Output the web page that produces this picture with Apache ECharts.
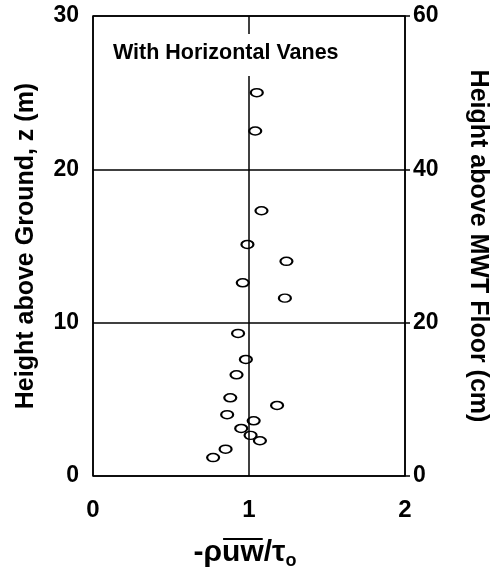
<!DOCTYPE html>
<html>
<head>
<meta charset="utf-8">
<script src="https://cdn.jsdelivr.net/npm/echarts@6/dist/echarts.min.js"></script>
<style>
  html, body { margin: 0; padding: 0; background: #fff; }
  #chart { width: 493px; height: 572px; }
</style>
</head>
<body>
<div id="chart"></div>
<script>
// Normalised Reynolds shear stress profile, -rho*uw/tau0, vs. height
const stressRatio = [1.05, 1.04, 1.08, 0.99, 1.24, 0.96, 1.23, 0.93, 0.98, 0.92,
                     0.88, 1.18, 0.86, 1.03, 0.95, 1.01, 1.07, 0.85, 0.77];
const heightM     = [25.0, 22.5, 17.3, 15.1, 14.0, 12.6, 11.6, 9.3, 7.6, 6.6,
                     5.1, 4.6, 4.0, 3.6, 3.1, 2.65, 2.3, 1.75, 1.2];

const xTicks = [0, 1, 2];
const zTicksM = [0, 10, 20, 30];
const zTicksCm = [0, 20, 40, 60];

const FONT = '"Liberation Sans", Arial, Helvetica, sans-serif';
const GRID = { left: 93, top: 16, width: 312, height: 460 };

const points = stressRatio.map((v, i) => [v, heightM[i]]);

// x-axis title: -ρ(uw overbar)/τ with subscript o, laid out from measured text widths
function measure(text, size) {
  const ctx = document.createElement('canvas').getContext('2d');
  ctx.font = 'bold ' + size + 'px ' + FONT;
  return ctx.measureText(text).width;
}
const titleSize = 30, subSize = 18;
const parts = ['-\u03c1', 'uw', '/\u03c4'];
const widths = parts.map(p => measure(p, titleSize));
const subW = measure('o', subSize);
const totalW = widths.reduce((a, b) => a + b, 0) + subW;
const titleCx = GRID.left + GRID.width / 2 - 4;
const titleMid = 553;
let cursor = titleCx - totalW / 2;
const titleEls = [];
parts.forEach((p, i) => {
  titleEls.push({
    type: 'text', x: cursor, y: titleMid,
    style: { text: p, font: 'bold ' + titleSize + 'px ' + FONT, fill: '#000',
             align: 'left', verticalAlign: 'middle' }
  });
  if (p === 'uw') {
    titleEls.push({
      type: 'line',
      shape: { x1: cursor + 1, y1: titleMid - 14, x2: cursor + widths[i] - 1, y2: titleMid - 14 },
      style: { stroke: '#000', lineWidth: 2 }
    });
  }
  cursor += widths[i];
});
titleEls.push({
  type: 'text', x: cursor, y: titleMid + 8,
  style: { text: 'o', font: 'bold ' + subSize + 'px ' + FONT, fill: '#000',
           align: 'left', verticalAlign: 'middle' }
});

const chart = echarts.init(document.getElementById('chart'), null, { renderer: 'canvas' });
chart.setOption({
  animation: false,
  backgroundColor: '#fff',
  title: {
    text: 'With Horizontal Vanes',
    left: 110, top: 34,
    padding: [8, 3, 12, 3],
    backgroundColor: '#fff',
    textStyle: { fontFamily: FONT, fontWeight: 'bold', fontSize: 21.5, color: '#000', lineHeight: 22 }
  },
  grid: Object.assign({
    show: true, borderColor: '#000', borderWidth: 1.5, backgroundColor: 'transparent',
    outerBoundsMode: 'none', containLabel: false
  }, GRID),
  xAxis: {
    type: 'value', min: xTicks[0], max: xTicks[xTicks.length - 1], interval: 1,
    axisLine: { show: false },
    axisTick: { show: false },
    axisLabel: { margin: 22, fontFamily: FONT, fontWeight: 'bold', fontSize: 24, color: '#000' },
    splitLine: { show: true, lineStyle: { color: '#000', width: 1.5 } }
  },
  yAxis: [
    {
      type: 'value', min: zTicksM[0], max: zTicksM[zTicksM.length - 1], interval: 10,
      position: 'left',
      name: 'Height above Ground, z (m)',
      nameLocation: 'middle', nameRotate: 90, nameGap: 54,
      nameTextStyle: { fontFamily: FONT, fontWeight: 'bold', fontSize: 25, color: '#000' },
      axisLine: { show: false },
      axisTick: { show: false },
      axisLabel: { margin: 14, fontFamily: FONT, fontWeight: 'bold', fontSize: 23, color: '#000' },
      splitLine: { show: true, lineStyle: { color: '#000', width: 1.5 } }
    },
    {
      type: 'value', min: zTicksCm[0], max: zTicksCm[zTicksCm.length - 1], interval: 20,
      position: 'right',
      name: 'Height above MWT Floor (cm)',
      nameLocation: 'middle', nameRotate: -90, nameGap: 60,
      nameTextStyle: { fontFamily: FONT, fontWeight: 'bold', fontSize: 25, color: '#000' },
      axisLine: { show: false },
      axisTick: { show: true, inside: false, length: 5, lineStyle: { color: '#000', width: 1.5 } },
      axisLabel: { margin: 8, fontFamily: FONT, fontWeight: 'bold', fontSize: 23, color: '#000' },
      splitLine: { show: false }
    }
  ],
  series: [{
    type: 'scatter',
    yAxisIndex: 0,
    data: points,
    symbol: 'circle',
    symbolSize: [12, 8],
    itemStyle: { color: 'rgba(255,255,255,0)', borderColor: '#000', borderWidth: 1.8, opacity: 1 },
    z: 5
  }],
  graphic: titleEls
});
</script>
</body>
</html>
